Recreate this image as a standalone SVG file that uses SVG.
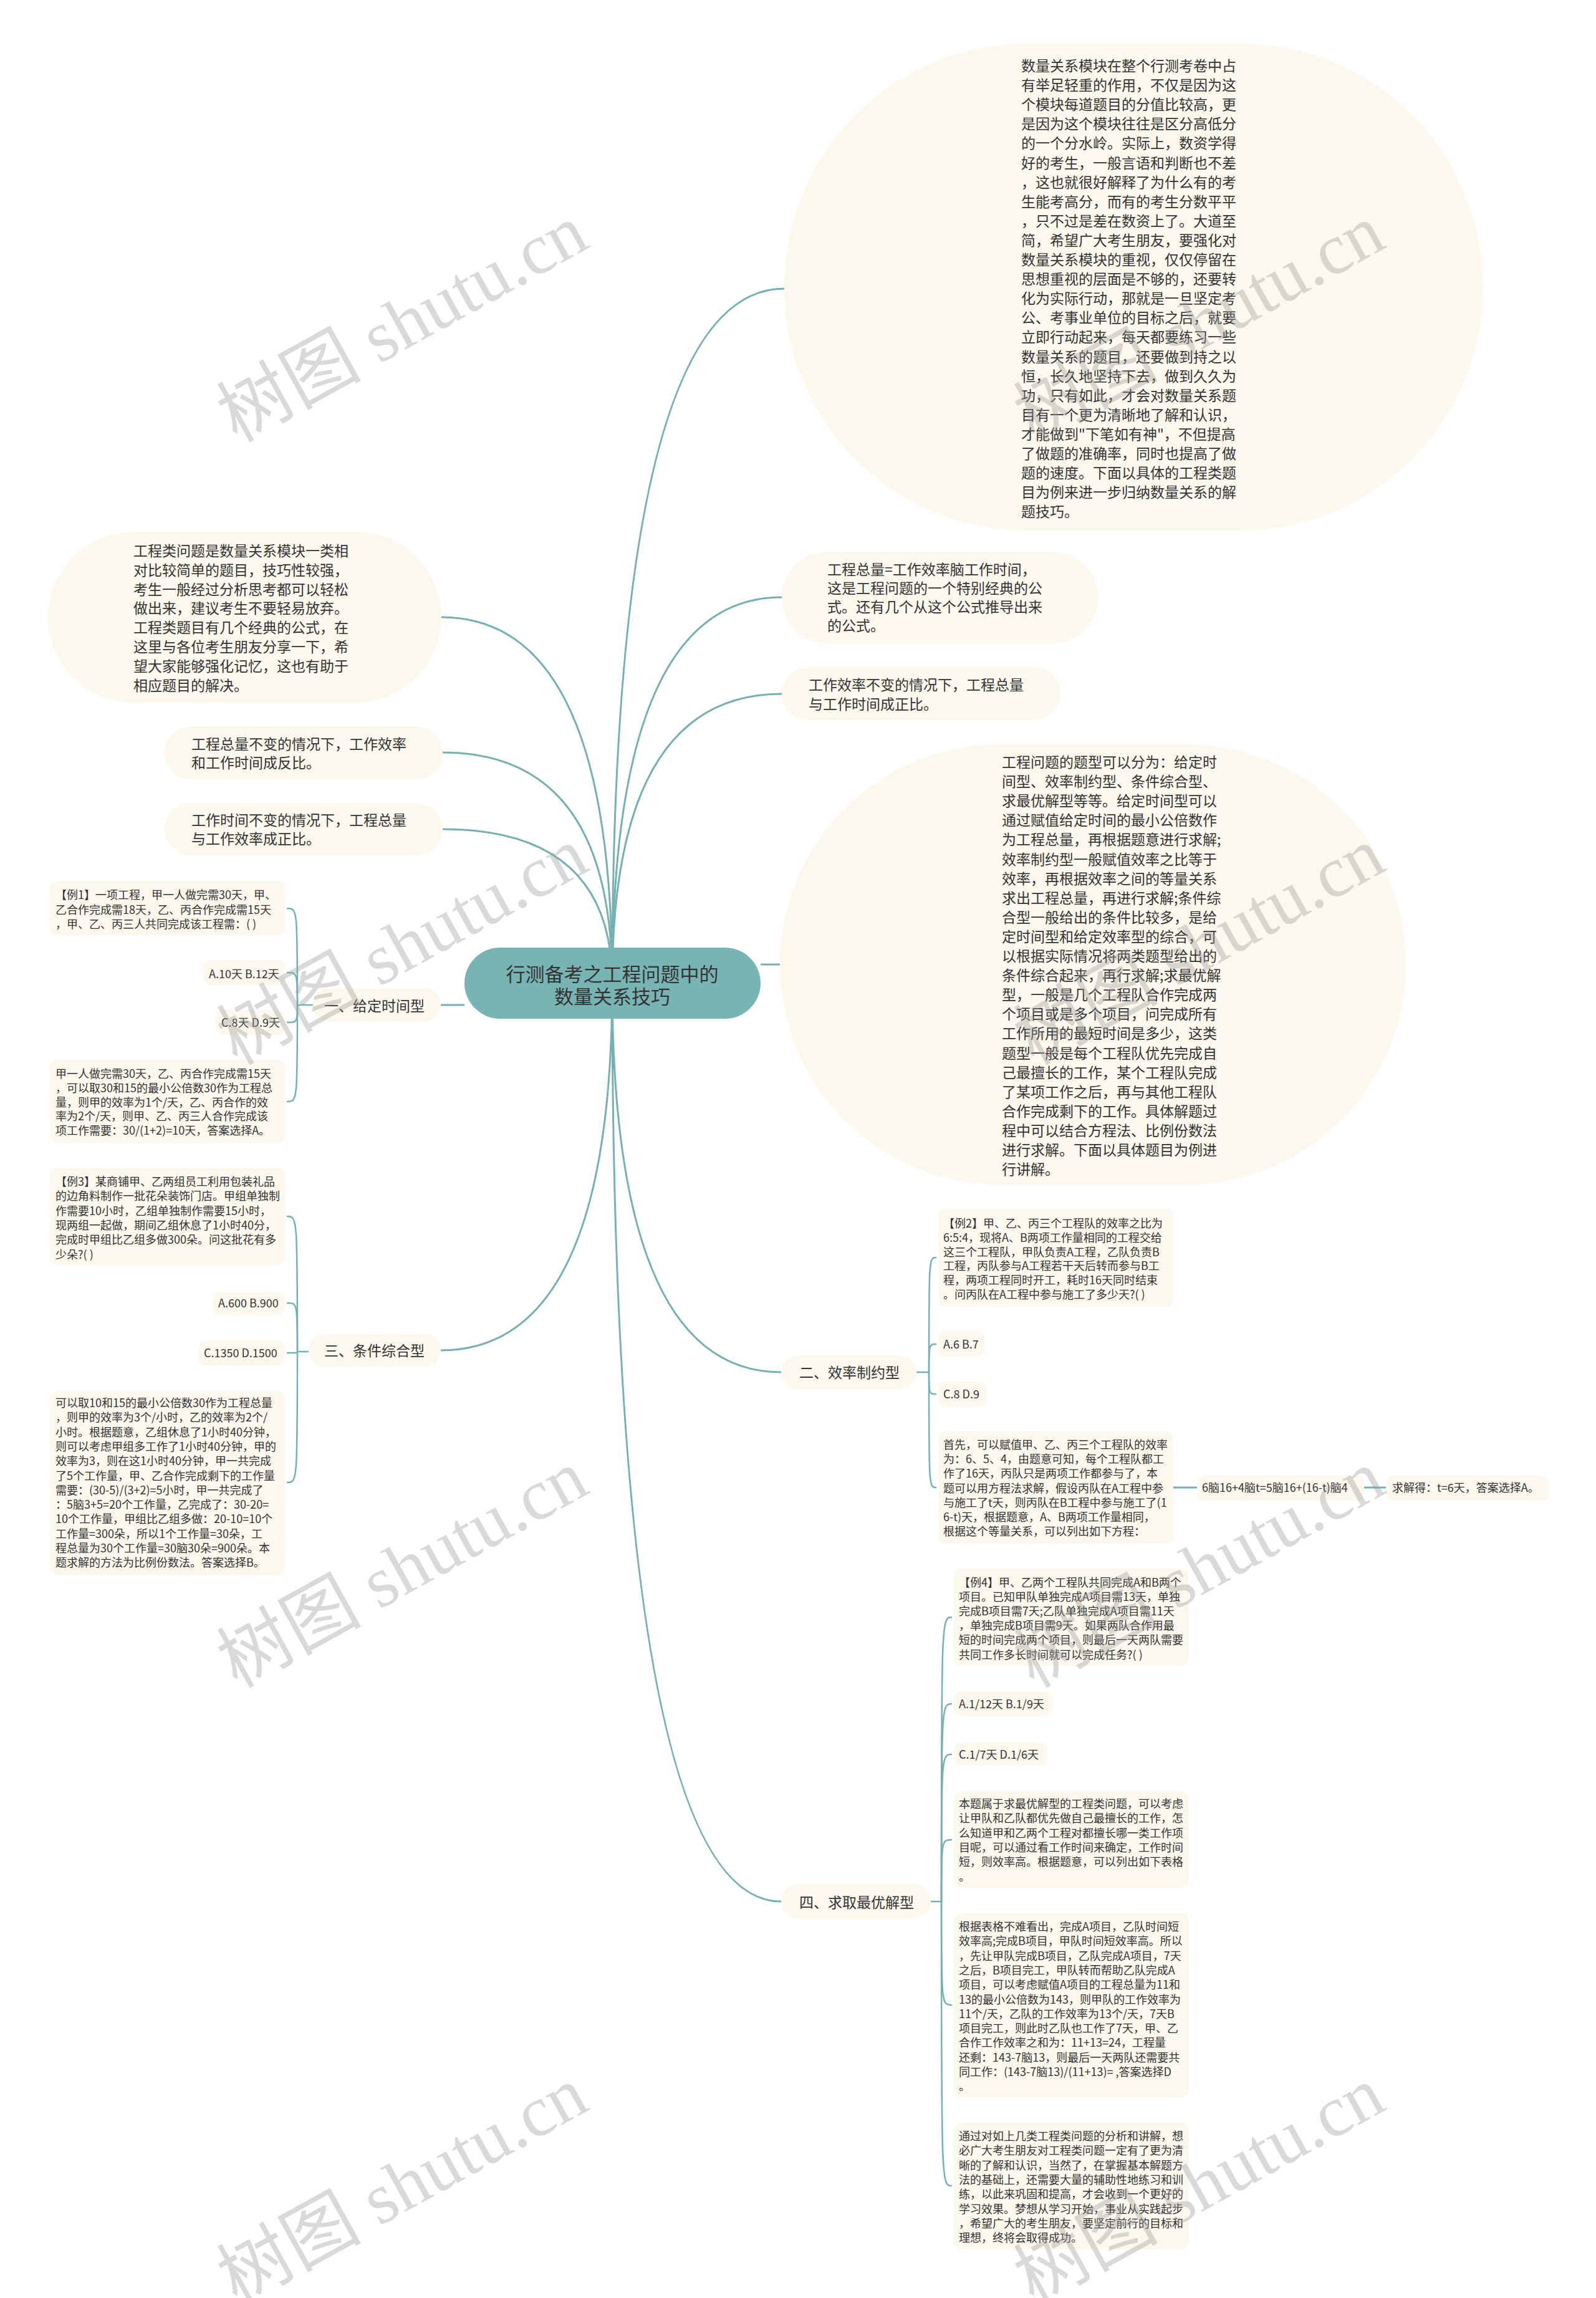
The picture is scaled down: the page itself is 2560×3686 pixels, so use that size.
<svg xmlns="http://www.w3.org/2000/svg" width="2560" height="3686" viewBox="0 0 2560 3686">
<style>
.bg{fill:#fcf8ed}
.t{font-family:"Noto Sans CJK SC","Noto Sans",sans-serif;fill:#333}
.f23{font-size:23px}
.f18{font-size:18px}
.f31{font-size:31px}
.c{fill:none;stroke:#76b0b0;stroke-width:3}
.b{fill:none;stroke:#76b0b0;stroke-width:2.5}
.wm{font-family:"Liberation Serif","Noto Sans CJK SC",serif;font-size:116px;fill:#9a9a9a;fill-opacity:0.38}
</style>
<rect x="0" y="0" width="2560" height="3686" fill="#ffffff"/>
<g id="connectors">
<path class="c" d="M982 1577 Q982 463 1258 463"/>
<path class="c" d="M982 1577 Q982 958 1254 958"/>
<path class="c" d="M982 1577 Q982 1113 1254 1113"/>
<path class="c" d="M1220 1547 H1251"/>
<path class="c" d="M982 1577 Q982 2201 1253 2201"/>
<path class="c" d="M982 1577 Q982 3050 1253 3050"/>
<path class="c" d="M982 1577 Q982 990 708 990"/>
<path class="c" d="M982 1577 Q982 1207 710 1207"/>
<path class="c" d="M982 1577 Q982 1330 710 1330"/>
<path class="c" d="M745 1612 H707"/>
<path class="c" d="M982 1577 Q982 2166 707 2166"/>
<path class="b" d="M502 1612 H477"/>
<path class="b" d="M477 1612 C477 1457 477 1457 460 1457"/>
<path class="b" d="M477 1612 C477 1560 477 1560 460 1560"/>
<path class="b" d="M477 1612 C477 1640 477 1640 460 1640"/>
<path class="b" d="M477 1612 C477 1767 477 1767 460 1767"/>
<path class="b" d="M495 2168 H477"/>
<path class="b" d="M477 2168 C477 1951 477 1951 460 1951"/>
<path class="b" d="M477 2168 C477 2090 477 2090 460 2090"/>
<path class="b" d="M477 2168 C477 2170 477 2170 460 2170"/>
<path class="b" d="M477 2168 C477 2378 477 2378 460 2378"/>
<path class="b" d="M1470 2201 H1490"/>
<path class="b" d="M1490 2201 C1490 2017 1490 2017 1502 2017"/>
<path class="b" d="M1490 2201 C1490 2156 1490 2156 1502 2156"/>
<path class="b" d="M1490 2201 C1490 2236 1490 2236 1502 2236"/>
<path class="b" d="M1490 2201 C1490 2386 1490 2386 1502 2386"/>
<path class="c" d="M1882 2386 H1920"/>
<path class="c" d="M2188 2386 H2223"/>
<path class="b" d="M1493 3050 H1510"/>
<path class="b" d="M1510 3050 C1510 2594 1510 2594 1527 2594"/>
<path class="b" d="M1510 3050 C1510 2733 1510 2733 1527 2733"/>
<path class="b" d="M1510 3050 C1510 2814 1510 2814 1527 2814"/>
<path class="b" d="M1510 3050 C1510 2951 1510 2951 1527 2951"/>
<path class="b" d="M1510 3050 C1510 3216 1510 3216 1527 3216"/>
<path class="b" d="M1510 3050 C1510 3506 1510 3506 1527 3506"/>
</g>
<g id="center">
<rect x="745" y="1520" width="475" height="114" rx="57" fill="#79b4b4"/>
<text class="t f31" text-anchor="middle"><tspan x="982" y="1574">行测备考之工程问题中的</tspan><tspan x="982" y="1610">数量关系技巧</tspan></text>
</g>
<g id="n-r1">
<rect class="bg" x="1258" y="70" width="1121" height="781" rx="390"/>
<text class="t f23"><tspan x="1638" y="114">数量关系模块在整个行测考卷中占</tspan><tspan x="1638" dy="31.1">有举足轻重的作用，不仅是因为这</tspan><tspan x="1638" dy="31.1">个模块每道题目的分值比较高，更</tspan><tspan x="1638" dy="31.1">是因为这个模块往往是区分高低分</tspan><tspan x="1638" dy="31.1">的一个分水岭。实际上，数资学得</tspan><tspan x="1638" dy="31.1">好的考生，一般言语和判断也不差</tspan><tspan x="1638" dy="31.1">，这也就很好解释了为什么有的考</tspan><tspan x="1638" dy="31.1">生能考高分，而有的考生分数平平</tspan><tspan x="1638" dy="31.1">，只不过是差在数资上了。大道至</tspan><tspan x="1638" dy="31.1">简，希望广大考生朋友，要强化对</tspan><tspan x="1638" dy="31.1">数量关系模块的重视，仅仅停留在</tspan><tspan x="1638" dy="31.1">思想重视的层面是不够的，还要转</tspan><tspan x="1638" dy="31.1">化为实际行动，那就是一旦坚定考</tspan><tspan x="1638" dy="31.1">公、考事业单位的目标之后，就要</tspan><tspan x="1638" dy="31.1">立即行动起来，每天都要练习一些</tspan><tspan x="1638" dy="31.1">数量关系的题目，还要做到持之以</tspan><tspan x="1638" dy="31.1">恒，长久地坚持下去，做到久久为</tspan><tspan x="1638" dy="31.1">功，只有如此，才会对数量关系题</tspan><tspan x="1638" dy="31.1">目有一个更为清晰地了解和认识，</tspan><tspan x="1638" dy="31.1">才能做到"下笔如有神"，不但提高</tspan><tspan x="1638" dy="31.1">了做题的准确率，同时也提高了做</tspan><tspan x="1638" dy="31.1">题的速度。下面以具体的工程类题</tspan><tspan x="1638" dy="31.1">目为例来进一步归纳数量关系的解</tspan><tspan x="1638" dy="31.1">题技巧。</tspan></text>
</g>
<g id="n-r2">
<rect class="bg" x="1254" y="885" width="507" height="147" rx="73"/>
<text class="t f23"><tspan x="1327" y="922">工程总量=工作效率脑工作时间，</tspan><tspan x="1327" dy="30">这是工程问题的一个特别经典的公</tspan><tspan x="1327" dy="30">式。还有几个从这个公式推导出来</tspan><tspan x="1327" dy="30">的公式。</tspan></text>
</g>
<g id="n-r3">
<rect class="bg" x="1254" y="1070" width="447" height="85" rx="42"/>
<text class="t f23"><tspan x="1297" y="1107">工作效率不变的情况下，工程总量</tspan><tspan x="1297" dy="31">与工作时间成正比。</tspan></text>
</g>
<g id="n-r4">
<rect class="bg" x="1251" y="1194" width="1004" height="706" rx="353"/>
<text class="t f23"><tspan x="1607" y="1231">工程问题的题型可以分为：给定时</tspan><tspan x="1607" dy="31.1">间型、效率制约型、条件综合型、</tspan><tspan x="1607" dy="31.1">求最优解型等等。给定时间型可以</tspan><tspan x="1607" dy="31.1">通过赋值给定时间的最小公倍数作</tspan><tspan x="1607" dy="31.1">为工程总量，再根据题意进行求解;</tspan><tspan x="1607" dy="31.1">效率制约型一般赋值效率之比等于</tspan><tspan x="1607" dy="31.1">效率，再根据效率之间的等量关系</tspan><tspan x="1607" dy="31.1">求出工程总量，再进行求解;条件综</tspan><tspan x="1607" dy="31.1">合型一般给出的条件比较多，是给</tspan><tspan x="1607" dy="31.1">定时间型和给定效率型的综合，可</tspan><tspan x="1607" dy="31.1">以根据实际情况将两类题型给出的</tspan><tspan x="1607" dy="31.1">条件综合起来，再行求解;求最优解</tspan><tspan x="1607" dy="31.1">型，一般是几个工程队合作完成两</tspan><tspan x="1607" dy="31.1">个项目或是多个项目，问完成所有</tspan><tspan x="1607" dy="31.1">工作所用的最短时间是多少，这类</tspan><tspan x="1607" dy="31.1">题型一般是每个工程队优先完成自</tspan><tspan x="1607" dy="31.1">己最擅长的工作，某个工程队完成</tspan><tspan x="1607" dy="31.1">了某项工作之后，再与其他工程队</tspan><tspan x="1607" dy="31.1">合作完成剩下的工作。具体解题过</tspan><tspan x="1607" dy="31.1">程中可以结合方程法、比例份数法</tspan><tspan x="1607" dy="31.1">进行求解。下面以具体题目为例进</tspan><tspan x="1607" dy="31.1">行讲解。</tspan></text>
</g>
<g id="n-l1">
<rect class="bg" x="77" y="853" width="631" height="274" rx="137"/>
<text class="t f23"><tspan x="214" y="892">工程类问题是数量关系模块一类相</tspan><tspan x="214" dy="30.8">对比较简单的题目，技巧性较强，</tspan><tspan x="214" dy="30.8">考生一般经过分析思考都可以轻松</tspan><tspan x="214" dy="30.8">做出来，建议考生不要轻易放弃。</tspan><tspan x="214" dy="30.8">工程类题目有几个经典的公式，在</tspan><tspan x="214" dy="30.8">这里与各位考生朋友分享一下，希</tspan><tspan x="214" dy="30.8">望大家能够强化记忆，这也有助于</tspan><tspan x="214" dy="30.8">相应题目的解决。</tspan></text>
</g>
<g id="n-l2">
<rect class="bg" x="264" y="1165" width="446" height="85" rx="42"/>
<text class="t f23"><tspan x="307" y="1202">工程总量不变的情况下，工作效率</tspan><tspan x="307" dy="30">和工作时间成反比。</tspan></text>
</g>
<g id="n-l3">
<rect class="bg" x="264" y="1288" width="446" height="84" rx="42"/>
<text class="t f23"><tspan x="307" y="1324">工作时间不变的情况下，工程总量</tspan><tspan x="307" dy="30">与工作效率成正比。</tspan></text>
</g>
<g id="n-l4">
<rect class="bg" x="502" y="1585" width="205" height="53" rx="26"/>
<text class="t f23" x="520" y="1622">一、给定时间型</text>
</g>
<g id="n-l4-ex1">
<rect class="bg" x="80" y="1413" width="377" height="87" rx="12"/>
<text class="t f18"><tspan x="89" y="1442">【例1】一项工程，甲一人做完需30天，甲、</tspan><tspan x="89" dy="23.5">乙合作完成需18天，乙、丙合作完成需15天</tspan><tspan x="89" dy="23.5">，甲、乙、丙三人共同完成该工程需：( )</tspan></text>
</g>
<g id="n-l4-ab">
<rect class="bg" x="326" y="1540" width="131" height="40" rx="12"/>
<text class="t f18" x="335" y="1569">A.10天 B.12天</text>
</g>
<g id="n-l4-cd">
<rect class="bg" x="346" y="1620" width="111" height="40" rx="12"/>
<text class="t f18" x="355" y="1647">C.8天 D.9天</text>
</g>
<g id="n-l4-ans">
<rect class="bg" x="80" y="1700" width="377" height="133" rx="12"/>
<text class="t f18"><tspan x="89" y="1729">甲一人做完需30天，乙、丙合作完成需15天</tspan><tspan x="89" dy="22.8">，可以取30和15的最小公倍数30作为工程总</tspan><tspan x="89" dy="22.8">量，则甲的效率为1个/天，乙、丙合作的效</tspan><tspan x="89" dy="22.8">率为2个/天，则甲、乙、丙三人合作完成该</tspan><tspan x="89" dy="22.8">项工作需要：30/(1+2)=10天，答案选择A。</tspan></text>
</g>
<g id="n-l5">
<rect class="bg" x="495" y="2140" width="212" height="52" rx="26"/>
<text class="t f23" x="520" y="2175">三、条件综合型</text>
</g>
<g id="n-l5-ex3">
<rect class="bg" x="80" y="1873" width="377" height="156" rx="12"/>
<text class="t f18"><tspan x="89" y="1902">【例3】某商铺甲、乙两组员工利用包装礼品</tspan><tspan x="89" dy="23.3">的边角料制作一批花朵装饰门店。甲组单独制</tspan><tspan x="89" dy="23.3">作需要10小时，乙组单独制作需要15小时，</tspan><tspan x="89" dy="23.3">现两组一起做，期间乙组休息了1小时40分，</tspan><tspan x="89" dy="23.3">完成时甲组比乙组多做300朵。问这批花有多</tspan><tspan x="89" dy="23.3">少朵?( )</tspan></text>
</g>
<g id="n-l5-ab">
<rect class="bg" x="341" y="2072" width="116" height="37" rx="12"/>
<text class="t f18" x="350" y="2097">A.600 B.900</text>
</g>
<g id="n-l5-cd">
<rect class="bg" x="318" y="2150" width="139" height="40" rx="12"/>
<text class="t f18" x="327" y="2177">C.1350 D.1500</text>
</g>
<g id="n-l5-ans">
<rect class="bg" x="80" y="2231" width="377" height="295" rx="12"/>
<text class="t f18"><tspan x="89" y="2257">可以取10和15的最小公倍数30作为工程总量</tspan><tspan x="89" dy="23.3">，则甲的效率为3个/小时，乙的效率为2个/</tspan><tspan x="89" dy="23.3">小时。根据题意，乙组休息了1小时40分钟，</tspan><tspan x="89" dy="23.3">则可以考虑甲组多工作了1小时40分钟，甲的</tspan><tspan x="89" dy="23.3">效率为3，则在这1小时40分钟，甲一共完成</tspan><tspan x="89" dy="23.3">了5个工作量，甲、乙合作完成剩下的工作量</tspan><tspan x="89" dy="23.3">需要：(30-5)/(3+2)=5小时，甲一共完成了</tspan><tspan x="89" dy="23.3">：5脑3+5=20个工作量，乙完成了：30-20=</tspan><tspan x="89" dy="23.3">10个工作量，甲组比乙组多做：20-10=10个</tspan><tspan x="89" dy="23.3">工作量=300朵，所以1个工作量=30朵，工</tspan><tspan x="89" dy="23.3">程总量为30个工作量=30脑30朵=900朵。本</tspan><tspan x="89" dy="23.3">题求解的方法为比例份数法。答案选择B。</tspan></text>
</g>
<g id="n-r5">
<rect class="bg" x="1253" y="2174" width="217" height="54" rx="27"/>
<text class="t f23" x="1282" y="2210">二、效率制约型</text>
</g>
<g id="n-r5-ex2">
<rect class="bg" x="1505" y="1939" width="377" height="157" rx="12"/>
<text class="t f18"><tspan x="1513" y="1969">【例2】甲、乙、丙三个工程队的效率之比为</tspan><tspan x="1513" dy="22.8">6:5:4，现将A、B两项工作量相同的工程交给</tspan><tspan x="1513" dy="22.8">这三个工程队，甲队负责A工程，乙队负责B</tspan><tspan x="1513" dy="22.8">工程，丙队参与A工程若干天后转而参与B工</tspan><tspan x="1513" dy="22.8">程，两项工程同时开工，耗时16天同时结束</tspan><tspan x="1513" dy="22.8">。问丙队在A工程中参与施工了多少天?( )</tspan></text>
</g>
<g id="n-r5-ab">
<rect class="bg" x="1505" y="2135" width="74" height="41" rx="12"/>
<text class="t f18" x="1513" y="2163">A.6 B.7</text>
</g>
<g id="n-r5-cd">
<rect class="bg" x="1505" y="2216" width="77" height="41" rx="12"/>
<text class="t f18" x="1513" y="2243">C.8 D.9</text>
</g>
<g id="n-r5-ans">
<rect class="bg" x="1505" y="2296" width="377" height="180" rx="12"/>
<text class="t f18"><tspan x="1513" y="2324">首先，可以赋值甲、乙、丙三个工程队的效率</tspan><tspan x="1513" dy="23.2">为：6、5、4，由题意可知，每个工程队都工</tspan><tspan x="1513" dy="23.2">作了16天，丙队只是两项工作都参与了，本</tspan><tspan x="1513" dy="23.2">题可以用方程法求解，假设丙队在A工程中参</tspan><tspan x="1513" dy="23.2">与施工了t天，则丙队在B工程中参与施工了(1</tspan><tspan x="1513" dy="23.2">6-t)天，根据题意，A、B两项工作量相同，</tspan><tspan x="1513" dy="23.2">根据这个等量关系，可以列出如下方程：</tspan></text>
</g>
<g id="n-r5-eq">
<rect class="bg" x="1920" y="2367" width="268" height="40" rx="12"/>
<text class="t f18" x="1928" y="2393">6脑16+4脑t=5脑16+(16-t)脑4</text>
</g>
<g id="n-r5-res">
<rect class="bg" x="2223" y="2367" width="262" height="40" rx="12"/>
<text class="t f18" x="2233" y="2393">求解得：t=6天，答案选择A。</text>
</g>
<g id="n-r6">
<rect class="bg" x="1253" y="3022" width="240" height="55" rx="27"/>
<text class="t f23" x="1282" y="3060">四、求取最优解型</text>
</g>
<g id="n-r6-ex4">
<rect class="bg" x="1530" y="2516" width="377" height="156" rx="12"/>
<text class="t f18"><tspan x="1538" y="2545">【例4】甲、乙两个工程队共同完成A和B两个</tspan><tspan x="1538" dy="23.1">项目。已知甲队单独完成A项目需13天，单独</tspan><tspan x="1538" dy="23.1">完成B项目需7天;乙队单独完成A项目需11天</tspan><tspan x="1538" dy="23.1">，单独完成B项目需9天。如果两队合作用最</tspan><tspan x="1538" dy="23.1">短的时间完成两个项目，则最后一天两队需要</tspan><tspan x="1538" dy="23.1">共同工作多长时间就可以完成任务?( )</tspan></text>
</g>
<g id="n-r6-ab">
<rect class="bg" x="1530" y="2713" width="158" height="40" rx="12"/>
<text class="t f18" x="1538" y="2740">A.1/12天 B.1/9天</text>
</g>
<g id="n-r6-cd">
<rect class="bg" x="1530" y="2795" width="150" height="37" rx="12"/>
<text class="t f18" x="1538" y="2821">C.1/7天 D.1/6天</text>
</g>
<g id="n-r6-a1">
<rect class="bg" x="1530" y="2874" width="377" height="154" rx="12"/>
<text class="t f18"><tspan x="1538" y="2900">本题属于求最优解型的工程类问题，可以考虑</tspan><tspan x="1538" dy="23.3">让甲队和乙队都优先做自己最擅长的工作，怎</tspan><tspan x="1538" dy="23.3">么知道甲和乙两个工程对都擅长哪一类工作项</tspan><tspan x="1538" dy="23.3">目呢，可以通过看工作时间来确定，工作时间</tspan><tspan x="1538" dy="23.3">短，则效率高。根据题意，可以列出如下表格</tspan><tspan x="1538" dy="23.3">。</tspan></text>
</g>
<g id="n-r6-a2">
<rect class="bg" x="1530" y="3069" width="377" height="295" rx="12"/>
<text class="t f18"><tspan x="1538" y="3097">根据表格不难看出，完成A项目，乙队时间短</tspan><tspan x="1538" dy="23.3">效率高;完成B项目，甲队时间短效率高。所以</tspan><tspan x="1538" dy="23.3">，先让甲队完成B项目，乙队完成A项目，7天</tspan><tspan x="1538" dy="23.3">之后，B项目完工，甲队转而帮助乙队完成A</tspan><tspan x="1538" dy="23.3">项目，可以考虑赋值A项目的工程总量为11和</tspan><tspan x="1538" dy="23.3">13的最小公倍数为143，则甲队的工作效率为</tspan><tspan x="1538" dy="23.3">11个/天，乙队的工作效率为13个/天，7天B</tspan><tspan x="1538" dy="23.3">项目完工，则此时乙队也工作了7天，甲、乙</tspan><tspan x="1538" dy="23.3">合作工作效率之和为：11+13=24，工程量</tspan><tspan x="1538" dy="23.3">还剩：143-7脑13，则最后一天两队还需要共</tspan><tspan x="1538" dy="23.3">同工作：(143-7脑13)/(11+13)= ,答案选择D</tspan><tspan x="1538" dy="23.3">。</tspan></text>
</g>
<g id="n-r6-a3">
<rect class="bg" x="1530" y="3405" width="377" height="203" rx="12"/>
<text class="t f18"><tspan x="1538" y="3433">通过对如上几类工程类问题的分析和讲解，想</tspan><tspan x="1538" dy="23.3">必广大考生朋友对工程类问题一定有了更为清</tspan><tspan x="1538" dy="23.3">晰的了解和认识，当然了，在掌握基本解题方</tspan><tspan x="1538" dy="23.3">法的基础上，还需要大量的辅助性地练习和训</tspan><tspan x="1538" dy="23.3">练，以此来巩固和提高，才会收到一个更好的</tspan><tspan x="1538" dy="23.3">学习效果。梦想从学习开始，事业从实践起步</tspan><tspan x="1538" dy="23.3">，希望广大的考生朋友，要坚定前行的目标和</tspan><tspan x="1538" dy="23.3">理想，终将会取得成功。</tspan></text>
</g>
<g id="watermarks">
<text class="wm" text-anchor="middle" transform="translate(645 518) rotate(-29)" x="0" y="40">树图 shutu.cn</text>
<text class="wm" text-anchor="middle" transform="translate(1923 518) rotate(-29)" x="0" y="40">树图 shutu.cn</text>
<text class="wm" text-anchor="middle" transform="translate(645 1517) rotate(-29)" x="0" y="40">树图 shutu.cn</text>
<text class="wm" text-anchor="middle" transform="translate(1923 1517) rotate(-29)" x="0" y="40">树图 shutu.cn</text>
<text class="wm" text-anchor="middle" transform="translate(645 2516) rotate(-29)" x="0" y="40">树图 shutu.cn</text>
<text class="wm" text-anchor="middle" transform="translate(1923 2516) rotate(-29)" x="0" y="40">树图 shutu.cn</text>
<text class="wm" text-anchor="middle" transform="translate(645 3505) rotate(-29)" x="0" y="40">树图 shutu.cn</text>
<text class="wm" text-anchor="middle" transform="translate(1923 3505) rotate(-29)" x="0" y="40">树图 shutu.cn</text>
</g>
</svg>
